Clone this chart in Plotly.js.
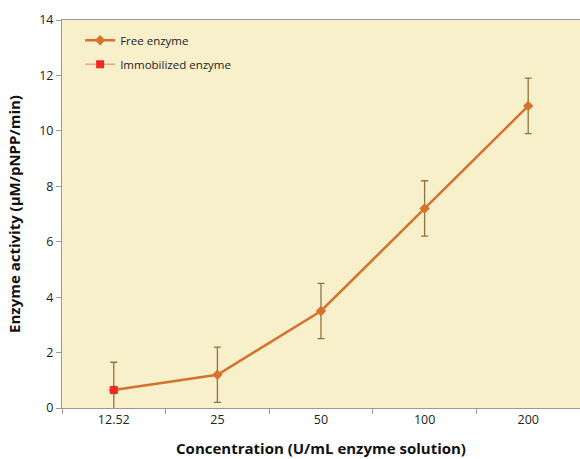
<!DOCTYPE html>
<html><head><meta charset="utf-8">
<script src="https://cdn.plot.ly/plotly-3.0.1.min.js"></script>
<style>html,body{margin:0;padding:0;background:#fff}</style>
</head><body>
<div id="chart" style="width:580px;height:459px"></div>
<script>
const categories = ["12.52", "25", "50", "100", "200"];
const freeValues = [0.65, 1.2, 3.5, 7.2, 10.9];
const freeErrors = [1.0, 1.0, 1.0, 1.0, 1.0];
const immobCategories = ["12.52"];
const immobValues = [0.65];
const yTicks = [0, 2, 4, 6, 8, 10, 12, 14];

const font = "Open Sans, Liberation Sans, sans-serif";
const traces = [
  {
    x: categories, y: freeValues, name: "Free enzyme", type: "scatter", mode: "lines+markers",
    legendgroup: "a",
    line: {color: "#D5722D", width: 2.5},
    marker: {symbol: "diamond", size: 8, color: "#D5722D"},
    error_y: {type: "data", array: freeErrors, visible: true, color: "#8C7640", thickness: 1.3, width: 3.5}
  },
  {
    x: immobCategories, y: immobValues, name: "Immobilized enzyme", type: "scatter", mode: "lines+markers",
    legendgroup: "b",
    line: {color: "#F2A38C", width: 1.5},
    marker: {symbol: "square", size: 8, color: "#EE2A24"}
  }
];
const layout = {
  width: 580, height: 459,
  margin: {l: 62, r: 0, t: 20, b: 51},
  paper_bgcolor: "#ffffff",
  plot_bgcolor: "#F8EFCB",
  font: {family: font, size: 12, color: "#222"},
  showlegend: true,
  legend: {x: 0.035, y: 0.985, xanchor: "left", yanchor: "top", bgcolor: "rgba(0,0,0,0)",
           font: {size: 11.5, color: "#222"}, traceorder: "grouped", tracegroupgap: 5, itemwidth: 30},
  xaxis: {
    type: "category", categoryorder: "array", categoryarray: categories,
    range: [-0.5, 4.5], tickson: "boundaries", ticks: "outside", ticklen: 5, tickcolor: "#999",
    showline: true, linecolor: "#999", linewidth: 1, mirror: true, showgrid: false, zeroline: false,
    tickfont: {size: 12.5, color: "#222"},
    title: {text: "<b>Concentration (U/mL enzyme solution)</b>", font: {size: 15, color: "#111"}, standoff: 16}
  },
  yaxis: {
    range: [0, 14], tickvals: yTicks, ticks: "outside", ticklen: 5, tickcolor: "#999",
    showline: true, linecolor: "#999", linewidth: 1, mirror: true, showgrid: false, zeroline: false,
    tickfont: {size: 12.5, color: "#222"},
    title: {text: "<b>Enzyme activity (µM/pNPP/min)</b>", font: {size: 15, color: "#111"}, standoff: 14}
  }
};
Plotly.newPlot("chart", traces, layout, {displayModeBar: false, staticPlot: true});
</script>
</body></html>
